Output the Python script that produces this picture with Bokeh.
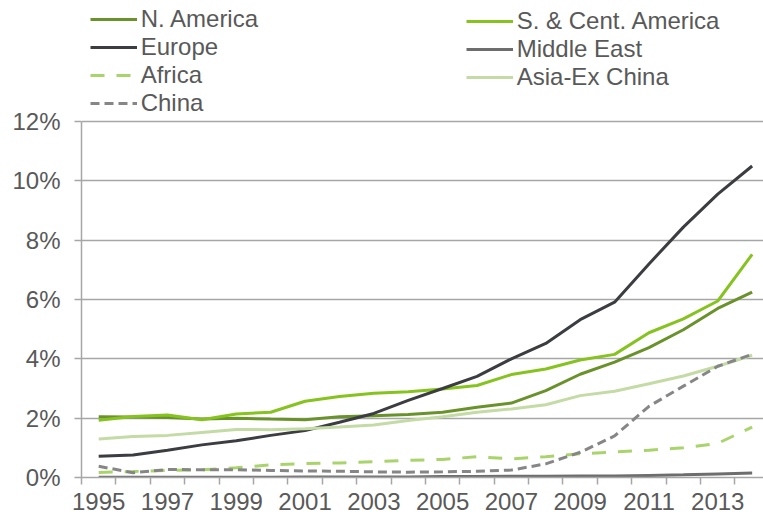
from bokeh.plotting import figure
from bokeh.models import FixedTicker, Legend, LegendItem, Range1d
from bokeh.embed import file_html
from bokeh.resources import INLINE

years = list(range(1995, 2015))
n_america = [2.05, 2.04, 2.02, 1.97, 2.00, 1.97, 1.95, 2.05, 2.08, 2.12, 2.20, 2.37, 2.51, 2.93, 3.48, 3.89, 4.38, 4.98, 5.70, 6.25]
sc_america = [1.93, 2.06, 2.11, 1.95, 2.14, 2.20, 2.57, 2.73, 2.84, 2.89, 2.98, 3.10, 3.47, 3.66, 3.96, 4.15, 4.88, 5.35, 5.95, 7.52]
europe = [0.72, 0.76, 0.92, 1.10, 1.24, 1.42, 1.58, 1.86, 2.16, 2.60, 3.00, 3.41, 4.00, 4.52, 5.32, 5.91, 7.20, 8.44, 9.55, 10.50]
middle_east = [0.01, 0.01, 0.01, 0.01, 0.01, 0.01, 0.02, 0.02, 0.02, 0.02, 0.03, 0.03, 0.04, 0.04, 0.05, 0.05, 0.07, 0.09, 0.12, 0.15]
africa = [0.17, 0.20, 0.24, 0.26, 0.33, 0.43, 0.47, 0.49, 0.53, 0.58, 0.61, 0.70, 0.63, 0.70, 0.80, 0.86, 0.92, 1.00, 1.15, 1.70]
asia_ex_china = [1.30, 1.38, 1.42, 1.52, 1.62, 1.61, 1.64, 1.70, 1.77, 1.92, 2.05, 2.20, 2.31, 2.45, 2.76, 2.91, 3.16, 3.42, 3.75, 4.12]
china = [0.38, 0.16, 0.27, 0.26, 0.26, 0.24, 0.22, 0.21, 0.19, 0.18, 0.19, 0.21, 0.25, 0.46, 0.85, 1.40, 2.40, 3.08, 3.75, 4.15]

x_tick_years = [1995, 1997, 1999, 2001, 2003, 2005, 2007, 2009, 2011, 2013]
x_tick_labels = ["1995", "1997", "1999", "2001", "2003", "2005", "2007", "2009", "2011", "2013"]
y_ticks = [0, 2, 4, 6, 8, 10, 12]
y_tick_labels = ["0%", "2%", "4%", "6%", "8%", "10%", "12%"]

FONT = "Liberation Sans"
TEXT = "#595959"
GRID = "#a6a6a6"

# frame extends above 12% to hold the legend (axis line bounded to 0..12)
p = figure(width=763, height=514, output_backend="svg", toolbar_location=None,
           x_range=Range1d(1994.5, 2014.33), y_range=Range1d(0, 16.08),
           min_border_left=81, min_border_right=0, min_border_top=0, min_border_bottom=37)
p.outline_line_color = None
p.background_fill_color = "white"

series = [
    ("N. America", n_america, "#6a922a", "solid"),
    ("S. & Cent. America", sc_america, "#86c31f", "solid"),
    ("Europe", europe, "#3c3d41", "solid"),
    ("Middle East", middle_east, "#6d6d6d", "solid"),
    ("Africa", africa, "#a9d46b", "14 12"),
    ("Asia-Ex China", asia_ex_china, "#c4dba5", "solid"),
    ("China", china, "#868686", "9 5"),
]
rends = {}
for name, vals, color, dash in series:
    rends[name] = p.line(years, vals, line_color=color, line_width=3, line_dash=dash)

# axes
p.xgrid.grid_line_color = None
p.ygrid.grid_line_color = GRID
p.ygrid.grid_line_width = 1.5
p.ygrid.ticker = FixedTicker(ticks=y_ticks)

p.xaxis.ticker = FixedTicker(ticks=x_tick_years, minor_ticks=[y - 0.5 for y in years])
p.xaxis.major_label_overrides = dict(zip(x_tick_years, x_tick_labels))
p.xaxis.major_tick_line_color = None
p.xaxis.major_tick_out = 7
p.xaxis.major_tick_in = 0
p.xaxis.minor_tick_line_color = GRID
p.xaxis.minor_tick_line_width = 1.5
p.xaxis.minor_tick_out = 7
p.xaxis.minor_tick_in = 0
p.xaxis.major_label_standoff = 8

p.yaxis.ticker = FixedTicker(ticks=y_ticks)
p.yaxis.major_label_overrides = dict(zip(y_ticks, y_tick_labels))
p.yaxis.bounds = (0, 12)
p.yaxis.major_tick_line_color = GRID
p.yaxis.major_tick_line_width = 1.5
p.yaxis.major_tick_out = 7
p.yaxis.major_tick_in = 0
p.yaxis.minor_tick_line_color = None
p.yaxis.major_label_standoff = 14

for ax in (p.xaxis, p.yaxis):
    ax.axis_line_color = GRID
    ax.axis_line_width = 1.5
    ax.major_label_text_font = FONT
    ax.major_label_text_font_size = "24px"
    ax.major_label_text_color = TEXT

left_names = ["N. America", "Europe", "Africa", "China"]
right_names = ["S. & Cent. America", "Middle East", "Asia-Ex China"]


def make_legend(names, loc):
    lg = Legend(items=[LegendItem(label=n, renderers=[rends[n]]) for n in names],
                location=loc, orientation="vertical")
    lg.border_line_color = None
    lg.background_fill_alpha = 0
    lg.padding = 0
    lg.margin = 0
    lg.spacing = -2
    lg.glyph_width = 47
    lg.glyph_height = 20
    lg.label_height = 20
    lg.label_standoff = 4
    lg.label_text_font = FONT
    lg.label_text_font_size = "24px"
    lg.label_text_color = TEXT
    return lg


p.add_layout(make_legend(left_names, (8.7, 360)), "center")
p.add_layout(make_legend(right_names, (384.7, 386.5)), "center")

open("out.html", "w").write(file_html(p, INLINE))
